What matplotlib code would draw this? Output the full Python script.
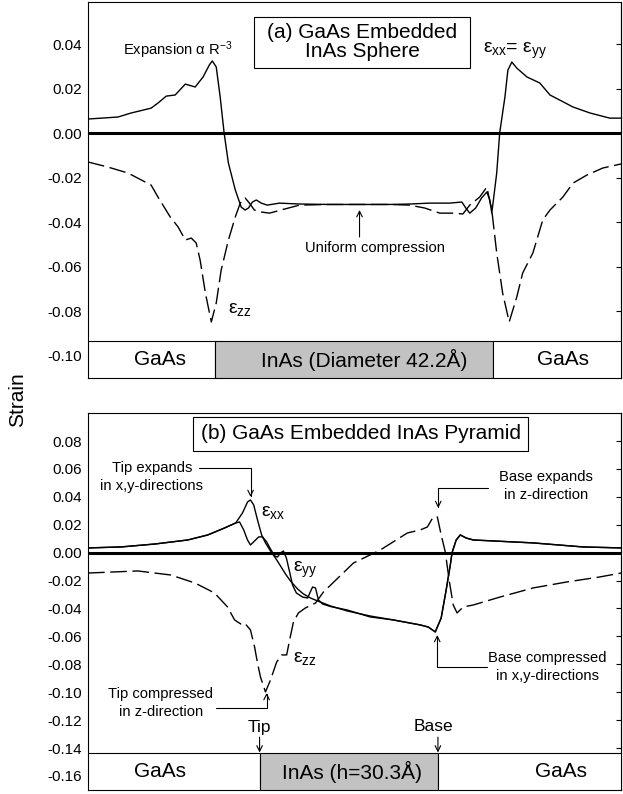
import numpy as np
import matplotlib
matplotlib.use("Agg")
import matplotlib.pyplot as plt
from matplotlib.patches import Rectangle

plt.rcParams['font.family'] = ['Liberation Sans', 'DejaVu Sans']
plt.rcParams['mathtext.fontset'] = 'custom'
plt.rcParams['mathtext.rm'] = 'Liberation Sans'
plt.rcParams['mathtext.it'] = 'Liberation Sans'
plt.rcParams['mathtext.bf'] = 'Liberation Sans:bold'
plt.rcParams['axes.unicode_minus'] = False

# ---- (a) sphere, position along line through centre (Angstrom) ----
sph_x_xx = [-40.45, -35.9, -33.9, -30.85, -29.8, -28.55, -27.2, -25.65, -24.15, -22.95,
            -22.0, -21.55, -20.95, -20.35, -19.75, -19.1, -18.05, -17.15, -16.55, -16.05,
            -15.45, -14.85, -14.1, -13.2, -11.35, -8.3, -3.7, 0.85, 5.4, 8.45,
            11.5, 14.55, 16.4, 17.0, 17.6, 18.5, 19.4, 20.2, 20.65, 20.95,
            21.7, 22.15, 22.95, 23.4, 24.0, 24.75, 26.3, 28.25, 29.8, 31.3,
            33.3, 35.9, 38.9, 40.6]
sph_exx = [0.0063, 0.0072, 0.0090, 0.0112, 0.0135, 0.0166, 0.0171, 0.0220, 0.0207, 0.0252,
           0.0306, 0.0324, 0.0297, 0.0162, 0.0, -0.0135, -0.0256, -0.0333, -0.0346, -0.0337,
           -0.0310, -0.0301, -0.0315, -0.0324, -0.0315, -0.0319, -0.0321, -0.0321, -0.0321, -0.0319,
           -0.0315, -0.0315, -0.0310, -0.0337, -0.0360, -0.0337, -0.0292, -0.0265, -0.0301, -0.0360,
           -0.0180, 0.0, 0.0162, 0.0283, 0.0319, 0.0292, 0.0252, 0.0225, 0.0171, 0.0148,
           0.0117, 0.0090, 0.0067, 0.0067]

sph_x_zz = [-40.45, -37.4, -34.35, -30.85, -29.8, -27.95, -26.75, -25.65, -24.75, -24.0,
            -23.4, -22.6, -21.7, -20.95, -20.2, -19.1, -18.05, -17.3, -16.55, -15.9,
            -15.15, -14.1, -12.85, -10.6, -8.3, -3.7, 5.4, 8.45, 10.75, 13.05,
            15.3, 16.55, 17.6, 19.1, 20.2, 20.95, 21.7, 22.6, 23.6, 24.75,
            25.65, 27.2, 28.7, 29.8, 31.75, 33.3, 35.4, 37.85, 40.6]
sph_ezz = [-0.0130, -0.0153, -0.0180, -0.0234, -0.0288, -0.0377, -0.0422, -0.0481, -0.0472, -0.0494,
           -0.0571, -0.0719, -0.0849, -0.0764, -0.0616, -0.0481, -0.0377, -0.0315, -0.0292, -0.0315,
           -0.0346, -0.0355, -0.0360, -0.0342, -0.0324, -0.0321, -0.0321, -0.0324, -0.0337, -0.0360,
           -0.0360, -0.0364, -0.0324, -0.0288, -0.0243, -0.0346, -0.0539, -0.0719, -0.0849, -0.0737,
           -0.0629, -0.0539, -0.0391, -0.0346, -0.0288, -0.0225, -0.0189, -0.0157, -0.0139]

sph_edges = [-40.45, -21.1, 21.1, 40.6]
sph_regions = ["GaAs", "InAs (Diameter 42.2Å)", "GaAs"]
sph_label_x = [-29.5, 1.6, 31.8]
sph_ticks = [0.04, 0.02, 0.0, -0.02, -0.04, -0.06, -0.08, -0.10]

# ---- (b) pyramid, position along line, tip at 0 (Angstrom) ----
pyr_x_xx = [-29.15, -23.55, -17.8, -12.2, -8.8, -5.95, -4.05, -2.9, -2.05, -1.55,
            -1.0, -0.35, 0.35, 1.0, 1.85, 2.7, 3.55, 4.4, 5.25, 6.45,
            7.45, 8.65, 9.85, 12.05, 14.9, 18.8, 22.7, 27.3, 28.65, 29.85,
            30.85, 31.7, 32.4, 32.7, 33.4, 34.1, 35.1, 36.3, 46.45, 54.95, 61.4]
pyr_exx = [0.0034, 0.0041, 0.0062, 0.0091, 0.0127, 0.0177, 0.0213, 0.0285, 0.0363, 0.0378,
           0.0342, 0.0234, 0.0127, 0.0070, 0.0012, -0.0038, -0.0095, -0.0153, -0.0203, -0.0260,
           -0.0296, -0.0325, -0.0346, -0.0382, -0.0418, -0.0454, -0.0482, -0.0518, -0.0533, -0.0568,
           -0.0468, -0.0267, -0.0088, 0.0, 0.0091, 0.0127, 0.0105, 0.0091, 0.0070, 0.0041, 0.0034]

pyr_x_yy = [-29.15, -23.55, -17.8, -12.2, -8.8, -5.95, -4.05, -3.4, -2.7, -2.05,
            -1.55, -0.85, -0.15, 0.5, 1.2, 1.85, 2.55, 3.05, 3.55, 4.05,
            4.55, 5.1, 5.6, 6.25, 7.3, 8.15, 9.0, 9.5, 10.0, 10.7,
            12.05, 14.9, 18.8, 22.7, 27.3, 28.65, 29.85, 30.85, 31.7, 32.4,
            32.7, 33.4, 34.1, 35.1, 36.3, 46.45, 54.95, 61.4]
pyr_eyy = [0.0034, 0.0041, 0.0062, 0.0091, 0.0127, 0.0177, 0.0213, 0.0220, 0.0163, 0.0091,
           0.0055, 0.0084, 0.0113, 0.0113, 0.0077, 0.0027, -0.0024, -0.0031, -0.0002, 0.0012,
           -0.0038, -0.0138, -0.0232, -0.0289, -0.0318, -0.0325, -0.0246, -0.0253, -0.0339, -0.0368,
           -0.0386, -0.0411, -0.0461, -0.0482, -0.0518, -0.0533, -0.0568, -0.0468, -0.0267, -0.0088,
           0.0, 0.0091, 0.0127, 0.0105, 0.0091, 0.0070, 0.0041, 0.0034]

pyr_x_zz = [-29.15, -20.7, -15.1, -11.0, -7.65, -5.45, -4.25, -3.2, -2.55, -1.55,
            -0.85, -0.35, 0.15, 1.0, 1.85, 2.9, 3.75, 4.6, 5.1, 5.75,
            6.6, 7.8, 9.5, 10.85, 15.95, 20.5, 25.1, 27.3, 28.5, 29.5,
            30.2, 30.85, 31.55, 32.2, 32.9, 33.55, 34.6, 36.3, 40.85, 46.45,
            52.2, 57.8, 61.4]
pyr_ezz = [-0.0146, -0.0131, -0.0160, -0.0217, -0.0289, -0.0389, -0.0482, -0.0511, -0.0504, -0.0554,
           -0.0676, -0.0791, -0.0891, -0.0998, -0.0913, -0.0784, -0.0733, -0.0733, -0.0626, -0.0497,
           -0.0432, -0.0396, -0.0361, -0.0282, -0.0074, 0.0019, 0.0141, 0.0163, 0.0184, 0.0256,
           0.0256, 0.0127, 0.0005, -0.0196, -0.0375, -0.0432, -0.0389, -0.0375, -0.0318, -0.0253,
           -0.0210, -0.0174, -0.0146]

pyr_edges = [-29.15, 0.0, 30.3, 61.4]
pyr_regions = ["GaAs", "InAs (h=30.3Å)", "GaAs"]
pyr_label_x = [-16.95, 15.7, 51.2]
pyr_ticks = [0.08, 0.06, 0.04, 0.02, 0.0, -0.02, -0.04, -0.06, -0.08, -0.10, -0.12, -0.14, -0.16]

DASH = (0, (12, 4))
ANN = 10.6
EPS = 14


def style_axis(ax, ticks, bar_top):
    ax.set_yticks(ticks)
    ax.set_yticklabels([f"{t:.2f}" for t in ticks])
    ax.tick_params(axis='y', which='major', length=0, pad=4.5, labelsize=11)
    visible = [t for t in ticks if t > bar_top]
    ax.set_yticks(visible, minor=True)
    ax.tick_params(axis='y', which='minor', direction='out', length=3, width=0.8)
    ax.set_xticks([])
    for s in ax.spines.values():
        s.set_linewidth(0.8)
    sec = ax.secondary_yaxis('right')
    sec.set_yticks(visible)
    sec.tick_params(direction='in', length=3.5, width=0.8, labelright=False)
    sec.spines['right'].set_linewidth(0.8)


def region_bar(ax, edges, names, label_x, bar_top, y_low):
    edges = np.array(edges)
    colors = ['white', '#c2c2c2', 'white']
    ax.bar(edges[:-1], bar_top - y_low, width=np.diff(edges), bottom=y_low,
           align='edge', color=colors, edgecolor='black', linewidth=0.8, zorder=3)
    for name, x in zip(names, label_x):
        ax.text(x, (bar_top + y_low) / 2, name, ha='center', va='center',
                fontsize=15, zorder=4)


def bent_arrow(ax, start, end):
    ax.annotate('', xy=end, xytext=start,
                arrowprops=dict(arrowstyle='->', color='black', lw=0.8,
                                shrinkA=0, shrinkB=0, mutation_scale=10,
                                connectionstyle='angle,angleA=0,angleB=90,rad=0'))


def straight_arrow(ax, start, end):
    ax.annotate('', xy=end, xytext=start,
                arrowprops=dict(arrowstyle='->', color='black', lw=0.8,
                                shrinkA=0, shrinkB=0, mutation_scale=10))


fig = plt.figure(figsize=(6.23, 7.94), dpi=100)
ax1 = fig.add_axes([88 / 623, 1 - 378 / 794, 533 / 623, 376 / 794])
ax2 = fig.add_axes([88 / 623, 1 - 790 / 794, 533 / 623, 377 / 794])

# ---- panel (a) ----
ax1.set_xlim(sph_edges[0], sph_edges[-1])
ax1.set_ylim(-0.1101, 0.0589)
ax1.axhline(0, color='black', lw=2.2, zorder=2)
ax1.plot(sph_x_xx, sph_exx, color='black', lw=1.0)
ax1.plot(sph_x_zz, sph_ezz, color='black', lw=1.0, ls=DASH)
region_bar(ax1, sph_edges, sph_regions, sph_label_x, -0.0935, -0.1101)
style_axis(ax1, sph_ticks, -0.0935)

ax1.add_patch(Rectangle((0.3114, 0.8245), 0.4053, 0.1356, transform=ax1.transAxes,
                        facecolor='white', edgecolor='black', lw=0.8, zorder=4))
ax1.text(0.514, 0.8923, "(a) GaAs Embedded\nInAs Sphere", transform=ax1.transAxes,
         ha='center', va='center', fontsize=15, linespacing=1.0, zorder=5)
ax1.text(-35.1, 0.0351, r"Expansion $\alpha$ R$^{-3}$", fontsize=ANN, ha='left', va='baseline')
ax1.text(19.6, 0.0360, r"$\varepsilon_{xx}$= $\varepsilon_{yy}$", fontsize=EPS,
         ha='left', va='baseline')
ax1.text(-19.1, -0.0795, r"$\varepsilon_{zz}$", fontsize=EPS, ha='left', va='center')
ax1.text(3.2, -0.0517, "Uniform compression", fontsize=ANN, ha='center', va='center')
straight_arrow(ax1, (0.84, -0.0467), (0.84, -0.0346))

# ---- panel (b) ----
ax2.set_xlim(pyr_edges[0], pyr_edges[-1])
ax2.set_ylim(-0.1701, 0.1001)
ax2.axhline(0, color='black', lw=2.2, zorder=2)
ax2.plot(pyr_x_xx, pyr_exx, color='black', lw=1.0)
ax2.plot(pyr_x_yy, pyr_eyy, color='black', lw=1.0)
ax2.plot(pyr_x_zz, pyr_ezz, color='black', lw=1.0, ls=DASH)
region_bar(ax2, pyr_edges, pyr_regions, pyr_label_x, -0.1436, -0.1701)
style_axis(ax2, pyr_ticks, -0.1436)

ax2.add_patch(Rectangle((0.197, 0.8992), 0.6285, 0.0902, transform=ax2.transAxes,
                        facecolor='white', edgecolor='black', lw=0.8, zorder=4))
ax2.text(0.5113, 0.9443, "(b) GaAs Embedded InAs Pyramid", transform=ax2.transAxes,
         ha='center', va='center', fontsize=15, zorder=5)

ax2.text(-18.3, 0.0543, "Tip expands\nin x,y-directions", fontsize=ANN,
         ha='center', va='center', linespacing=1.35)
bent_arrow(ax2, (-10.34, 0.0607), (-1.53, 0.0399))
ax2.text(-16.8, -0.1077, "Tip compressed\nin z-direction", fontsize=ANN,
         ha='center', va='center', linespacing=1.35)
bent_arrow(ax2, (-7.46, -0.1114), (1.19, -0.1006))
ax2.text(48.66, 0.0478, "Base expands\nin z-direction", fontsize=ANN,
         ha='center', va='center', linespacing=1.35)
bent_arrow(ax2, (38.83, 0.0464), (30.35, 0.0320))
ax2.text(48.83, -0.0819, "Base compressed\nin x,y-directions", fontsize=ANN,
         ha='center', va='center', linespacing=1.35)
bent_arrow(ax2, (38.66, -0.0819), (30.18, -0.0590))

ax2.text(0.17, 0.0285, r"$\varepsilon_{xx}$", fontsize=EPS, ha='left', va='center')
ax2.text(5.76, -0.0124, r"$\varepsilon_{yy}$", fontsize=EPS, ha='left', va='center')
ax2.text(5.76, -0.0755, r"$\varepsilon_{zz}$", fontsize=EPS, ha='left', va='center')

ax2.text(0.0, -0.1255, "Tip", fontsize=12.5, ha='center', va='center')
straight_arrow(ax2, (0.0, -0.1322), (0.0, -0.1432))
ax2.text(29.5, -0.1245, "Base", fontsize=12.5, ha='center', va='center')
straight_arrow(ax2, (30.3, -0.1322), (30.3, -0.1432))

fig.text(0.028, 0.4962, "Strain", rotation=90, fontsize=15, ha='center', va='center')

fig.savefig("out.png", dpi=100)
